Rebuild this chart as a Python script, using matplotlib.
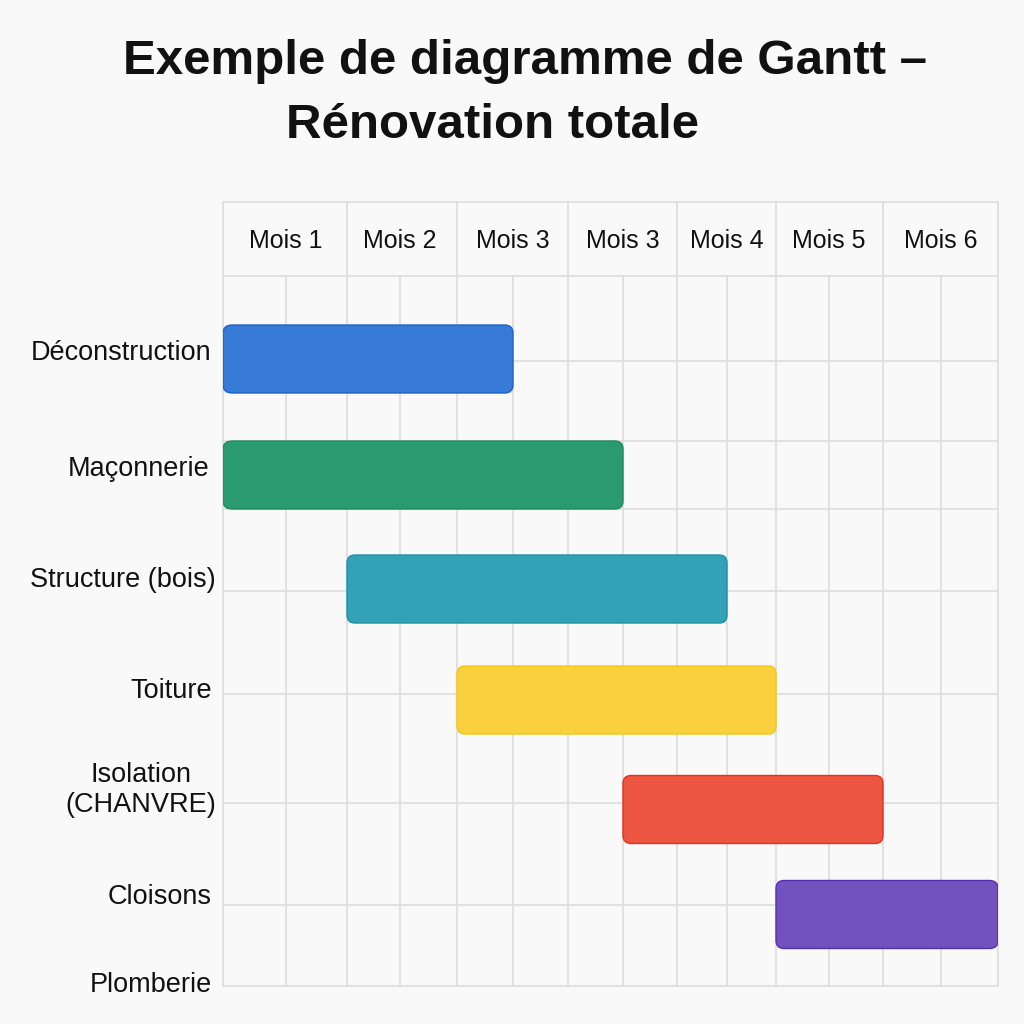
import numpy as np
import matplotlib
matplotlib.use("Agg")
import matplotlib.pyplot as plt
from matplotlib.patches import FancyBboxPatch

# ---------------- data ----------------
title_line1 = "Exemple de diagramme de Gantt –"
title_line2 = "Rénovation totale"
month_labels = ["Mois 1", "Mois 2", "Mois 3", "Mois 3", "Mois 4", "Mois 5", "Mois 6"]
tasks = ["Déconstruction", "Maçonnerie", "Structure (bois)", "Toiture",
         "Isolation\n(CHANVRE)", "Cloisons", "Plomberie"]
starts = [0.0, 0.0, 1.0, 2.0, 3.5, 5.0]      # in month columns
ends = [2.5, 3.5, 4.5, 5.0, 6.0, 7.0]
colors = ["#377BD6", "#2A9A73", "#33A1B6", "#FAD13C", "#EC5542", "#7252BE"]
edgecolors = ["#1E62D0", "#1C8A62", "#1E90A8", "#F6C617", "#E4321E", "#5630B2"]

# ---------------- layout ----------------
W = H = 1024
BG = "#F9F9F9"
GRID = "#DDDDDD"
x0_px, x1_px, y0_px, y1_px = 223, 998, 202, 986
knot_px = np.array([223, 286, 347, 400, 457, 513, 568, 623, 677, 727, 776, 829, 883, 941, 998], float)
knot_x = np.arange(len(knot_px)) * 0.5
header_bottom = 276
hlines = [361, 441, 509, 591, 694, 803, 905]
bar_centers = [359, 475, 589, 700, 809.5, 914.5]
bar_h = 68
label_pos = [(211, 353), (210, 469), (216, 580), (212, 691), (216, 790), (212, 897), (212, 985)]

fig = plt.figure(figsize=(W / 100, H / 100), dpi=100, facecolor=BG)
ax = fig.add_axes([x0_px / W, 1 - y1_px / H, (x1_px - x0_px) / W, (y1_px - y0_px) / H])
ax.set_facecolor(BG)


def fwd(x):
    return np.interp(x, knot_x, knot_px)


def inv(p):
    return np.interp(p, knot_px, knot_x)


ax.set_xscale("function", functions=(fwd, inv))
ax.set_xlim(0, 7)
ax.set_ylim(y1_px, y0_px)
ax.set_xticks([])
ax.set_yticks([])
for s in ax.spines.values():
    s.set_color(GRID)
    s.set_linewidth(1.2)

# grid
for i, xv in enumerate(knot_x[1:-1], start=1):
    if i % 2 == 0:
        ax.vlines(xv, y0_px, y1_px, color=GRID, lw=1.2, zorder=1)
    else:
        ax.vlines(xv, header_bottom, y1_px, color=GRID, lw=1.2, zorder=1)
ax.hlines([header_bottom] + hlines, 0, 7, color=GRID, lw=1.2, zorder=1)

# header labels
for i, lab in enumerate(month_labels):
    ax.text(i + 0.5, 241, lab, ha="center", va="center", fontsize=18,
            family="Liberation Sans", color="#111111")

# bars
r = 0.075
asp = 8 / r
for s, e, yc, c, ec in zip(starts, ends, bar_centers, colors, edgecolors):
    p = FancyBboxPatch((s, yc - bar_h / 2), e - s, bar_h,
                       boxstyle=f"round,pad=0,rounding_size={r}",
                       mutation_aspect=asp, facecolor=c, edgecolor=ec,
                       lw=1.0, zorder=3)
    ax.add_patch(p)

# task labels
for lab, (xp, yp) in zip(tasks, label_pos):
    fig.text(xp / W, 1 - yp / H, lab, ha="right", va="center", fontsize=19.5,
             family="Liberation Sans", color="#111111",
             multialignment="center", linespacing=1.25)

# title
fig.text(525 / W, 1 - 62 / H, title_line1, ha="center", va="center",
         fontsize=35.5, fontweight="bold", family="Liberation Sans", color="#111111")
fig.text(492 / W, 1 - 125 / H, title_line2, ha="center", va="center",
         fontsize=35.5, fontweight="bold", family="Liberation Sans", color="#111111")

fig.savefig("out.png", dpi=100, facecolor=BG)
